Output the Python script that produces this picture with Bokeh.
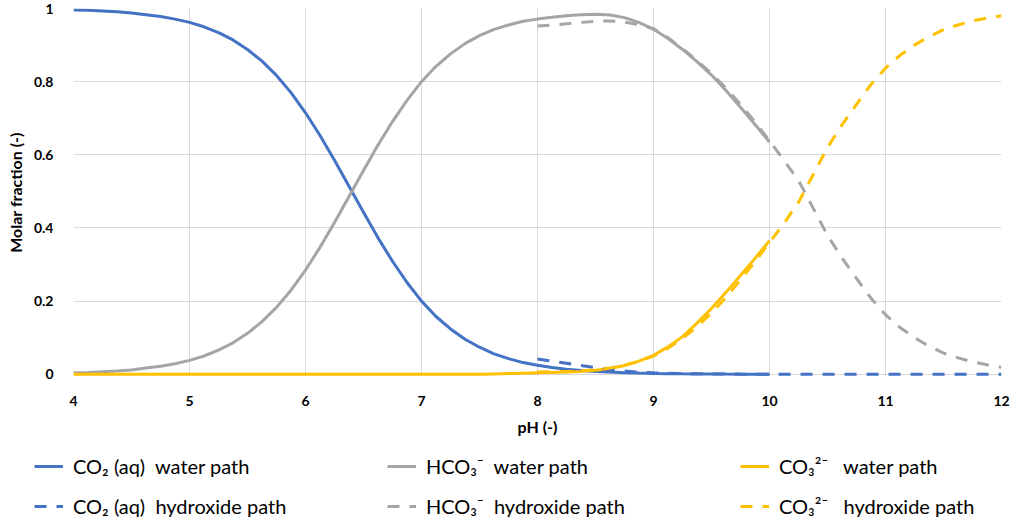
from bokeh.plotting import figure
from bokeh.layouts import column
from bokeh.models import Legend, LegendItem, FixedTicker, NumeralTickFormatter, Range1d
from bokeh.embed import file_html
from bokeh.resources import INLINE

# ---- data ----
ph_water = [4.0, 4.125, 4.25, 4.375, 4.5, 4.625, 4.75, 4.875,
            5.0, 5.125, 5.25, 5.375, 5.5, 5.625, 5.75, 5.875,
            6.0, 6.125, 6.25, 6.375, 6.5, 6.625, 6.75, 6.875,
            7.0, 7.125, 7.25, 7.375, 7.5, 7.625, 7.75, 7.875,
            8.0, 8.125, 8.25, 8.375, 8.5, 8.625, 8.75, 8.875,
            9.0, 9.125, 9.25, 9.375, 9.5, 9.625, 9.75, 9.875,
            10.0]
co2_water = [0.996, 0.995, 0.993, 0.991, 0.988, 0.983, 0.978, 0.971,
             0.962, 0.950, 0.934, 0.914, 0.888, 0.856, 0.817, 0.770,
             0.715, 0.653, 0.585, 0.514, 0.443, 0.373, 0.309, 0.251,
             0.200, 0.158, 0.124, 0.096, 0.074, 0.056, 0.043, 0.032,
             0.025, 0.0185, 0.014, 0.0105, 0.008, 0.006, 0.0045, 0.0033,
             0.0025, 0.0018, 0.0013, 0.001, 0.0007, 0.0005, 0.0004, 0.0003,
             0.0002]
hco3_water = [0.004, 0.005, 0.007, 0.009, 0.012, 0.017, 0.022, 0.029,
              0.038, 0.050, 0.066, 0.086, 0.112, 0.144, 0.183, 0.230,
              0.285, 0.347, 0.415, 0.486, 0.557, 0.627, 0.691, 0.749,
              0.800, 0.842, 0.876, 0.904, 0.926, 0.943, 0.955, 0.965,
              0.971, 0.976, 0.980, 0.983, 0.984, 0.982, 0.975, 0.962,
              0.943, 0.918, 0.888, 0.855, 0.818, 0.776, 0.730, 0.683,
              0.635]
co3_water = [0.0, 0.0, 0.0, 0.0, 0.0, 0.0, 0.0, 0.0,
             0.0, 0.0, 0.0, 0.0, 0.0, 0.0, 0.0, 0.0,
             0.0, 0.0, 0.0, 0.0, 0.0, 0.0, 0.0, 0.0,
             0.0, 0.0, 0.0, 0.0, 0.0, 0.001, 0.002, 0.003,
             0.004, 0.005, 0.006, 0.008, 0.011, 0.016, 0.024, 0.036,
             0.052, 0.075, 0.103, 0.140, 0.180, 0.224, 0.270, 0.317,
             0.365]

ph_hydroxide = [8.0, 8.125, 8.25, 8.375, 8.5, 8.625, 8.75, 8.875,
                9.0, 9.125, 9.25, 9.375, 9.5, 9.625, 9.75, 9.875,
                10.0, 10.125, 10.25, 10.375, 10.5, 10.625, 10.75, 10.875,
                11.0, 11.125, 11.25, 11.375, 11.5, 11.625, 11.75, 11.875,
                12.0]
co2_hydroxide = [0.042, 0.036, 0.030, 0.024, 0.018, 0.013, 0.009, 0.006,
                 0.004, 0.003, 0.002, 0.0015, 0.001, 0.0008, 0.0005, 0.0003,
                 0.0002, 0.0, 0.0, 0.0, 0.0, 0.0, 0.0, 0.0,
                 0.0, 0.0, 0.0, 0.0, 0.0, 0.0, 0.0, 0.0,
                 0.0]
hco3_hydroxide = [0.952, 0.955, 0.958, 0.962, 0.965, 0.966, 0.963, 0.956,
                  0.945, 0.920, 0.890, 0.858, 0.822, 0.782, 0.738, 0.690,
                  0.638, 0.585, 0.530, 0.455, 0.380, 0.318, 0.262, 0.208,
                  0.163, 0.128, 0.100, 0.077, 0.058, 0.045, 0.034, 0.026,
                  0.019]
co3_hydroxide = [0.006, 0.007, 0.008, 0.010, 0.012, 0.017, 0.025, 0.035,
                 0.050, 0.071, 0.098, 0.130, 0.168, 0.210, 0.258, 0.308,
                 0.360, 0.413, 0.470, 0.545, 0.620, 0.682, 0.738, 0.792,
                 0.837, 0.872, 0.900, 0.923, 0.942, 0.955, 0.966, 0.974,
                 0.980]

x_ticks = [4, 5, 6, 7, 8, 9, 10, 11, 12]
y_ticks = [0, 0.2, 0.4, 0.6, 0.8, 1.0]

species_labels = ["CO\u2082 (aq)  ", "HCO\u2083\u207b  ", "CO\u2083\u00b2\u207b   "]
path_labels = ["water path", "hydroxide path"]

BLUE = "#4472C4"
GRAY = "#A5A5A5"
YELLOW = "#FFC000"
FONT = "Lato"
DASH = "12 10"

p = figure(width=1016, height=440, x_range=Range1d(4, 12), y_range=Range1d(-0.006, 1.0),
           output_backend="svg", toolbar_location=None,
           min_border_left=73, min_border_right=15, min_border_top=8, min_border_bottom=64)
p.frame_align = False
p.outline_line_color = None
p.background_fill_color = "white"
p.border_fill_color = "white"

p.line(ph_water, co2_water, color=BLUE, line_width=3)
p.line(ph_water, hco3_water, color=GRAY, line_width=3)
p.line(ph_water, co3_water, color=YELLOW, line_width=3)
p.line(ph_hydroxide, co2_hydroxide, color=BLUE, line_width=3, line_dash=DASH)
p.line(ph_hydroxide, hco3_hydroxide, color=GRAY, line_width=3, line_dash=DASH)
p.line(ph_hydroxide, co3_hydroxide, color=YELLOW, line_width=3, line_dash=DASH)

p.xaxis.ticker = FixedTicker(ticks=x_ticks)
p.yaxis.ticker = FixedTicker(ticks=y_ticks)
p.yaxis.formatter = NumeralTickFormatter(format="0.[0]")

for ax in (p.xaxis[0], p.yaxis[0]):
    ax.major_tick_line_color = None
    ax.minor_tick_line_color = None
    ax.axis_line_color = None
    ax.major_label_text_font = FONT
    ax.major_label_text_font_style = "bold"
    ax.major_label_text_font_size = "14px"
    ax.major_label_text_color = "black"
    ax.axis_label_text_font = FONT
    ax.axis_label_text_font_style = "bold"
    ax.axis_label_text_font_size = "16px"
    ax.axis_label_text_color = "black"

p.xaxis.axis_label = "pH (-)"
p.yaxis.axis_label = "Molar fraction (-)"
p.xaxis.major_label_standoff = 13
p.xaxis.axis_label_standoff = 8
p.yaxis.major_label_standoff = 14
p.yaxis.axis_label_standoff = 6

p.xgrid.grid_line_color = "#D9D9D9"
p.ygrid.grid_line_color = "#D9D9D9"
p.xgrid.grid_line_width = 1
p.ygrid.grid_line_width = 1

# ---- legend strip below the chart ----
lg = figure(width=1016, height=84, x_range=Range1d(0, 1), y_range=Range1d(0, 1),
            output_backend="svg", toolbar_location=None,
            x_axis_location=None, y_axis_location=None,
            min_border_left=0, min_border_right=0, min_border_top=0, min_border_bottom=0)
lg.frame_align = False
lg.grid.visible = False
lg.outline_line_color = None
lg.background_fill_color = "white"
lg.border_fill_color = "white"

# column-major order: each column holds one species (water path, then hydroxide path)
items = []
for c, s in zip([BLUE, GRAY, YELLOW], species_labels):
    for d, path in zip(["solid", DASH], path_labels):
        r = lg.line([-1, -1], [-1, -1], color=c, line_width=3, line_dash=d)
        items.append(LegendItem(label=s + path, renderers=[r]))

legend = Legend(items=items, ncols=3, location=(34, 6),
                label_text_font=FONT, label_text_font_size="20px", label_text_color="black",
                glyph_width=29, glyph_height=20, label_height=20, label_standoff=10,
                label_width=298, spacing=16, padding=0, margin=0,
                border_line_color=None, background_fill_alpha=0)
lg.add_layout(legend, "center")

layout = column(p, lg, spacing=0)
open("out.html", "w").write(file_html(layout, INLINE))
